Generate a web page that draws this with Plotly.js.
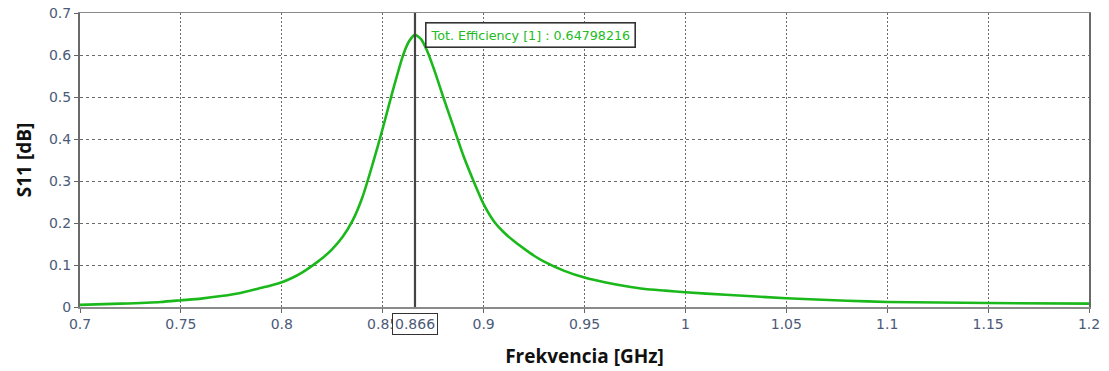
<!DOCTYPE html>
<html>
<head>
<meta charset="utf-8">
<script src="https://cdn.plot.ly/plotly-3.0.1.min.js"></script>
<style>
  html, body { margin: 0; padding: 0; background: #fff; }
  #chart { width: 1109px; height: 371px; }
</style>
</head>
<body>
<div id="chart"></div>
<script>
// Total efficiency vs frequency
const freqGHz = [0.70, 0.72, 0.74, 0.75, 0.76, 0.77, 0.78, 0.79, 0.795,
                 0.800, 0.805, 0.810, 0.815, 0.820, 0.825, 0.830, 0.835, 0.840, 0.845,
                 0.850, 0.855, 0.860, 0.863, 0.866, 0.869, 0.872, 0.876, 0.880, 0.885,
                 0.890, 0.895, 0.900, 0.905, 0.910, 0.915, 0.920, 0.925, 0.930, 0.940,
                 0.950, 0.960, 0.970, 0.980, 0.990, 1.000, 1.020, 1.050, 1.080, 1.100,
                 1.150, 1.200];
const efficiency = [0.005, 0.008, 0.012, 0.016, 0.020, 0.026, 0.034, 0.046, 0.052,
                    0.059, 0.069, 0.082, 0.098, 0.116, 0.138, 0.166, 0.205, 0.262, 0.340,
                    0.425, 0.515, 0.598, 0.632, 0.64798216, 0.638, 0.610, 0.558, 0.500, 0.430,
                    0.360, 0.300, 0.245, 0.205, 0.178, 0.157, 0.139, 0.122, 0.108, 0.086,
                    0.070, 0.059, 0.050, 0.043, 0.039, 0.035, 0.029, 0.021, 0.015, 0.012,
                    0.0095, 0.008];

// Marker placed at the resonance
const markerFreq = 0.866;
const markerValue = 0.64798216;
const markerName = 'Tot. Efficiency [1]';

const xTicks = [0.7, 0.75, 0.8, 0.85, 0.9, 0.95, 1, 1.05, 1.1, 1.15, 1.2];
const yTicks = [0, 0.1, 0.2, 0.3, 0.4, 0.5, 0.6, 0.7];

const tickFont = { family: 'DejaVu Sans, Verdana, sans-serif', size: 14, color: '#4b5a78' };
const titleFont = { family: 'Open Sans, sans-serif', size: 19, color: '#111', weight: 700 };

const trace = {
  x: freqGHz,
  y: efficiency,
  type: 'scatter',
  mode: 'lines',
  line: { color: '#1bb81b', width: 2.6, shape: 'spline', smoothing: 0.6 },
  hoverinfo: 'skip'
};

const layout = {
  width: 1109,
  height: 371,
  margin: { l: 80, r: 20, t: 13, b: 64 },
  paper_bgcolor: '#ffffff',
  plot_bgcolor: '#ffffff',
  showlegend: false,
  xaxis: {
    range: [0.7, 1.2],
    tickvals: xTicks,
    ticktext: xTicks.map(v => String(v)),
    tickfont: tickFont,
    ticks: 'outside',
    ticklen: 4,
    tickcolor: '#666',
    showline: true,
    linecolor: '#8a8a8a',
    linewidth: 1.5,
    mirror: true,
    showgrid: true,
    gridcolor: '#6a6a6a',
    gridwidth: 1,
    griddash: '2px,2px',
    zeroline: false,
    title: { text: 'Frekvencia [GHz]', font: titleFont, standoff: 18 }
  },
  yaxis: {
    range: [0, 0.7],
    tickvals: yTicks,
    ticktext: yTicks.map(v => String(v)),
    tickfont: tickFont,
    ticks: 'outside',
    ticklen: 4,
    tickcolor: '#666',
    showline: true,
    linecolor: '#6a6a6a',
    linewidth: 2,
    mirror: true,
    showgrid: true,
    gridcolor: '#6a6a6a',
    gridwidth: 1,
    griddash: '3px,3px',
    zeroline: false,
    title: { text: 'S11 [dB]', font: titleFont, standoff: 12 }
  },
  shapes: [
    {
      type: 'line', xref: 'x', yref: 'paper',
      x0: markerFreq, x1: markerFreq, y0: 0, y1: 1,
      line: { color: '#444', width: 2.2 }
    }
  ],
  annotations: [
    {
      x: markerFreq, y: markerValue, xref: 'x', yref: 'y',
      xanchor: 'left', yanchor: 'middle', xshift: 10,
      text: markerName + ' : ' + markerValue.toFixed(8),
      showarrow: false,
      font: { family: 'DejaVu Sans, Verdana, sans-serif', size: 12.7, color: '#22bb22' },
      bgcolor: '#ffffff',
      bordercolor: '#333',
      borderwidth: 1.6,
      borderpad: 4
    },
    {
      x: markerFreq, y: 0, xref: 'x', yref: 'paper',
      xanchor: 'center', yanchor: 'top', yshift: -6,
      text: String(markerFreq),
      showarrow: false,
      font: tickFont,
      bgcolor: '#ffffff',
      bordercolor: '#333',
      borderwidth: 1,
      borderpad: 2
    }
  ]
};

Plotly.newPlot('chart', [trace], layout, { staticPlot: true, displayModeBar: false });
</script>
</body>
</html>
